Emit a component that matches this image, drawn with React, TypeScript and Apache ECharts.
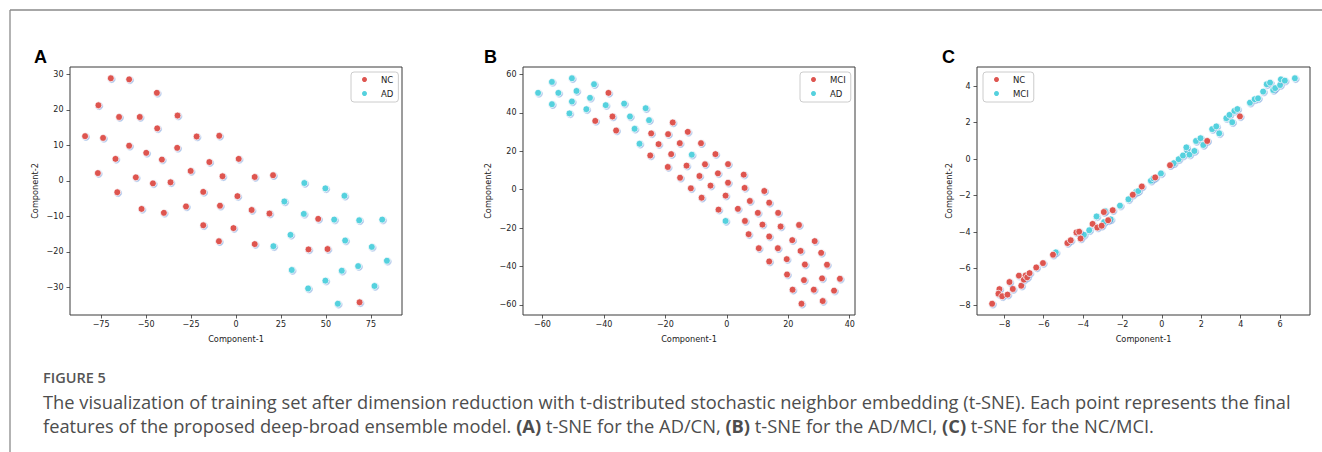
import React, { useEffect, useRef } from "react";
import * as echarts from "echarts";

// ---------- Panel A (NC vs AD) ----------
const ncA: number[][] = [
  [-69.6, 28.9], [-59.4, 28.6], [-44, 24.8], [-76.5, 21.3], [-65, 18], [-53.5, 18], [-32.5, 18.4],
  [-43.8, 14.8], [-83.9, 12.6], [-73.9, 12.1], [-21.9, 12.5], [-9.3, 12.7], [-59.4, 9.9], [-49.9, 7.9],
  [-32.7, 9.3], [-67, 6.2], [-41.2, 6], [-14.8, 5.3], [1.5, 6.2], [-25.2, 2.8], [-76.8, 2.2],
  [-55.7, 1], [-7.5, 1.3], [-46.2, -0.7], [-36.4, -0.4], [-66, -3.2], [-18.2, -3.1], [0.8, -4.3],
  [-52.5, -7.9], [-40.1, -9], [-27.8, -7.2], [-8.9, -7], [-18.2, -12.5], [-1.4, -13.3], [-9.5, -17],
  [10.4, 1.1], [20.6, 1.6], [8.7, -8.2], [18.6, -9.2], [45.7, -10.7], [10.4, -17.8], [40.3, -19.3],
  [50.9, -19.2], [68.7, -34.2],
];
const adA: number[][] = [
  [38, -0.6], [49.7, -2.1], [60.3, -4.2], [26.9, -5.8], [37.7, -9.3], [54.6, -10.9], [68.5, -11.1],
  [81.3, -10.9], [30.3, -15.2], [60.7, -16.8], [20.8, -18.4], [75.5, -18.6], [83.9, -22.5], [31, -25.1],
  [58.8, -25.3], [67.9, -24], [49.7, -28.1], [40.1, -30.3], [77, -29.6], [56.6, -34.6],
];

// ---------- Panel B (MCI vs AD) ----------
const mciB: number[][] = [
  [-38.5, 50.4], [-42.8, 35.8], [-37.2, 38.1], [-36, 30.8], [-24.6, 29.3], [-22.2, 23.7], [-24.9, 17.8],
  [-19.1, 28.9], [-19.2, 11.8], [-17.6, 35], [-12.7, 30.1], [-15.3, 24.2], [-8.4, 24.2], [-18.1, 18.5],
  [-3.7, 18.5], [-13.1, 12.5], [-7.1, 13.2], [0.4, 13.3], [-2.9, 8.5], [-15.2, 6.2], [-8.9, 7.1],
  [5.5, 7.8], [-11.7, 0.7], [-5.3, 2.1], [0.4, 3.6], [5.8, 0.9], [12.2, -0.7], [-8.2, -4.2],
  [-0.4, -3.1], [7.5, -5.9], [13.8, -6.8], [-2.7, -10.4], [3.6, -10], [10.1, -12.1], [16.7, -12.1],
  [5.9, -16.3], [11.6, -18.2], [17.5, -19.2], [23.5, -18.4], [7.1, -23.2], [13.8, -24.4], [21.3, -26.3],
  [28.6, -26.8], [10.4, -30.5], [16.6, -30.5], [24, -31.9], [30.7, -32.9], [13.8, -37.4], [19.5, -36.2],
  [25.4, -39], [32.6, -39.1], [19.6, -44.2], [25.1, -47.1], [31, -46.2], [36.8, -46.4], [21.4, -52.1],
  [28.3, -52.1], [34.9, -52.6], [24.3, -59.4], [31.2, -58],
];
const adB: number[][] = [
  [-61.4, 50.4], [-56.9, 56.1], [-56.9, 44.5], [-54.8, 50.4], [-50.4, 58], [-50.4, 45.9], [-48.9, 51.4],
  [-51.2, 39.7], [-43.2, 54.9], [-44.5, 47.8], [-45.7, 41.9], [-39.4, 44], [-33.4, 44.8], [-31.5, 38.1],
  [-26.4, 42.4], [-25.3, 36.2], [-30, 31.7], [-28.4, 23.9], [-11.4, 18.2], [-0.4, -16.3],
];

// ---------- Panel C (NC vs MCI) ----------
const ncC: number[][] = [
  [-8.62, -7.93], [-8.25, -7.13], [-8.3, -7.38], [-8.11, -7.52], [-7.84, -7.43], [-7.57, -7.12],
  [-7.74, -6.74], [-7.26, -6.39], [-7.14, -6.94], [-7.01, -6.61], [-6.92, -6.38], [-6.84, -6.48],
  [-6.72, -6.25], [-6.38, -5.94], [-6.04, -5.7], [-5.53, -5.24], [-4.8, -4.6], [-4.63, -4.45],
  [-4.34, -4.02], [-4.2, -3.98], [-4.13, -4.35], [-3.52, -3.55], [-3.28, -3.75], [-3.06, -3.65],
  [-2.95, -2.9], [-2.73, -3.35], [-2.5, -2.8], [-1.48, -1.95], [-1.02, -1.5], [-0.34, -1.0],
  [0.41, -0.33], [2.3, 1.0], [3.96, 2.35],
];
const mciC: number[][] = [
  [-5.39, -5.11], [-3.96, -4.15], [-3.69, -3.9], [-3.32, -3.14], [-2.89, -2.85], [-2.94, -3.45],
  [-2.6, -3.3], [-2.13, -2.55], [-1.7, -2.2], [-1.31, -1.8], [-1.2, -1.75], [-0.56, -1.18],
  [-0.43, -1.05], [-0.05, -0.78], [0.6, -0.22], [0.85, 0.0], [1.07, 0.2], [1.28, 0.48], [1.24, 0.65],
  [1.4, 0.25], [1.65, 0.45], [1.73, 1.0], [1.96, 1.15], [2.1, 0.78], [2.55, 1.65], [2.76, 1.8],
  [2.91, 1.42], [3.27, 2.25], [3.43, 2.43], [3.57, 2.03], [3.68, 2.65], [3.83, 2.75], [4.47, 3.1],
  [4.71, 3.29], [4.88, 3.34], [5.14, 3.71], [5.32, 4.11], [5.49, 4.2], [5.65, 3.8], [5.75, 3.9],
  [6.0, 4.07], [6.04, 4.38], [6.24, 4.31], [6.75, 4.44],
];

// ---------- tick labels ----------
const ticksAx = [-75, -50, -25, 0, 25, 50, 75];
const ticksAy = [-30, -20, -10, 0, 10, 20, 30];
const ticksBx = [-60, -40, -20, 0, 20, 40];
const ticksBy = [-60, -40, -20, 0, 20, 40, 60];
const ticksCx = [-8, -6, -4, -2, 0, 2, 4, 6];
const ticksCy = [-8, -6, -4, -2, 0, 2, 4];

const panelLetters = ["A", "B", "C"];
const xName = "Component-1";
const yName = "Component-2";
const captionTitle = "FIGURE 5";
const captionLine1 =
  "The visualization of training set after dimension reduction with t-distributed stochastic neighbor embedding (t-SNE). Each point represents the final";
const captionLine2 =
  "features of the proposed deep-broad ensemble model. {b|(A)} t-SNE for the AD/CN, {b|(B)} t-SNE for the AD/MCI, {b|(C)} t-SNE for the NC/MCI.";

const RED = "#de5550";
const CYAN = "#55d1de";

// matplotlib-like 5% auto margins
function limits(sets: number[][][], idx: number): [number, number] {
  let mn = Infinity;
  let mx = -Infinity;
  sets.forEach((s) => s.forEach((p) => { mn = Math.min(mn, p[idx]); mx = Math.max(mx, p[idx]); }));
  const r = mx - mn;
  return [mn - 0.05 * r, mx + 0.05 * r];
}

const fmt = (v: number) => (v < 0 ? "\u2212" + Math.abs(v) : String(v));

const TICK_FONT = "'DejaVu Sans', sans-serif";
const TICK_SIZE = 8;
const NAME_SIZE = 8.2;

function makeX(idx: number, lim: [number, number], ticks: number[]) {
  return {
    type: "value",
    gridIndex: idx,
    min: lim[0],
    max: lim[1],
    name: xName,
    nameLocation: "middle",
    nameGap: 19.5,
    nameTextStyle: { fontFamily: TICK_FONT, fontSize: NAME_SIZE, color: "#222" },
    axisLine: { show: false, onZero: false },
    splitLine: { show: false },
    axisTick: { show: true, length: 3.5, customValues: ticks, lineStyle: { color: "#333", width: 0.8 } },
    axisLabel: {
      customValues: ticks,
      formatter: fmt,
      margin: 5.5,
      fontFamily: TICK_FONT,
      fontSize: TICK_SIZE,
      color: "#222",
      hideOverlap: false,
    },
  };
}

function makeY(idx: number, lim: [number, number], ticks: number[], gap: number) {
  return {
    type: "value",
    gridIndex: idx,
    min: lim[0],
    max: lim[1],
    name: yName,
    nameLocation: "middle",
    nameGap: gap,
    nameTextStyle: { fontFamily: TICK_FONT, fontSize: NAME_SIZE, color: "#222" },
    axisLine: { show: false, onZero: false },
    splitLine: { show: false },
    axisTick: { show: true, length: 3.5, customValues: ticks, lineStyle: { color: "#333", width: 0.8 } },
    axisLabel: {
      customValues: ticks,
      formatter: fmt,
      margin: 6.5,
      fontFamily: TICK_FONT,
      fontSize: TICK_SIZE,
      color: "#222",
      hideOverlap: false,
    },
  };
}

function scatter(name: string, data: number[][], idx: number, color: string, z: number) {
  return {
    type: "scatter",
    name,
    data,
    xAxisIndex: idx,
    yAxisIndex: idx,
    symbol: "circle",
    symbolSize: 6.8,
    z,
    itemStyle: {
      color,
      opacity: 1,
      borderColor: "#ffffff",
      borderWidth: 0.7,
      shadowColor: "rgba(70,130,210,0.55)",
      shadowBlur: 1.5,
      shadowOffsetX: 0.8,
      shadowOffsetY: 0.8,
    },
  };
}

function legend(names: string[], left: number) {
  return {
    data: names.map((n) => ({ name: n, icon: "circle" })),
    left,
    top: 72,
    orient: "vertical",
    selectedMode: false,
    itemWidth: 7,
    itemHeight: 7,
    itemGap: 3,
    padding: [2, 5, 3, 9],
    backgroundColor: "rgba(255,255,255,0.85)",
    borderColor: "#cccccc",
    borderWidth: 1,
    borderRadius: 3,
    formatter: (n: string) => n.split(":")[1],
    textStyle: { fontFamily: TICK_FONT, fontSize: 8.5, color: "#222", lineHeight: 11, padding: [0, 0, 0, 8] },
  };
}

export default function App() {
  const ref = useRef<HTMLDivElement>(null);

  useEffect(() => {
    if (!ref.current) return;
    const chart = echarts.init(ref.current, undefined, { renderer: "svg" });

    const gridBase = { top: 67, height: 248, show: true, borderColor: "#3a3a3a", borderWidth: 1, backgroundColor: "transparent", containLabel: false, outerBoundsMode: "none" };
    const grids = [
      { ...gridBase, left: 70, width: 332 },
      { ...gridBase, left: 523, width: 332 },
      { ...gridBase, left: 977, width: 333 },
    ];

    const limAx = limits([ncA, adA], 0);
    const limAy = limits([ncA, adA], 1);
    const limBx = limits([mciB, adB], 0);
    const limBy = limits([mciB, adB], 1);
    const limCx = limits([ncC, mciC], 0);
    const limCy = limits([ncC, mciC], 1);

    const letterX = [34, 484, 942];
    const captionFont = "'Open Sans', 'Noto Sans', sans-serif";

    const option: any = {
      animation: false,
      backgroundColor: "#ffffff",
      grid: grids,
      xAxis: [makeX(0, limAx, ticksAx), makeX(1, limBx, ticksBx), makeX(2, limCx, ticksCx)],
      yAxis: [makeY(0, limAy, ticksAy, 31), makeY(1, limBy, ticksBy, 31), makeY(2, limCy, ticksCy, 24.5)],
      legend: [
        legend(["A:NC", "A:AD"], 351),
        legend(["B:MCI", "B:AD"], 800),
        legend(["C:NC", "C:MCI"], 983),
      ],
      series: [
        scatter("A:AD", adA, 0, CYAN, 2),
        scatter("A:NC", ncA, 0, RED, 3),
        scatter("B:AD", adB, 1, CYAN, 2),
        scatter("B:MCI", mciB, 1, RED, 3),
        scatter("C:MCI", mciC, 2, CYAN, 2),
        scatter("C:NC", ncC, 2, RED, 3),
      ],
      graphic: [
        { type: "line", silent: true, shape: { x1: 10, y1: 10, x2: 1322, y2: 10 }, style: { stroke: "#8a8a8a", lineWidth: 1.3 } },
        { type: "line", silent: true, shape: { x1: 10, y1: 10, x2: 10, y2: 452 }, style: { stroke: "#8a8a8a", lineWidth: 1.3 } },
        ...panelLetters.map((t, i) => ({
          type: "text",
          silent: true,
          x: letterX[i],
          y: 57,
          style: { text: t, fill: "#000", fontFamily: "'Liberation Sans', Arial, sans-serif", fontWeight: "bold", fontSize: 18, verticalAlign: "middle", align: "left" },
        })),
        {
          type: "text", silent: true, x: 43, y: 377,
          style: { text: captionTitle, fill: "#555", fontFamily: captionFont, fontWeight: 600, fontSize: 14.5, verticalAlign: "middle" },
        },
        {
          type: "text", silent: true, x: 43, y: 401,
          style: { text: captionLine1, fill: "#4d4d4d", fontFamily: captionFont, fontSize: 18.3, verticalAlign: "middle" },
        },
        {
          type: "text", silent: true, x: 43, y: 425,
          style: {
            text: captionLine2, fill: "#4d4d4d", fontFamily: captionFont, fontSize: 18.3, verticalAlign: "middle",
            rich: { b: { fontWeight: "bold", fill: "#4d4d4d", fontFamily: captionFont, fontSize: 18.3 } },
          },
        },
      ],
    };

    chart.setOption(option);
    return () => chart.dispose();
  }, []);

  return (
    <div
      ref={ref}
      style={{ position: "absolute", left: 0, top: 0, width: 1322, height: 452, background: "#fff" }}
    />
  );
}
